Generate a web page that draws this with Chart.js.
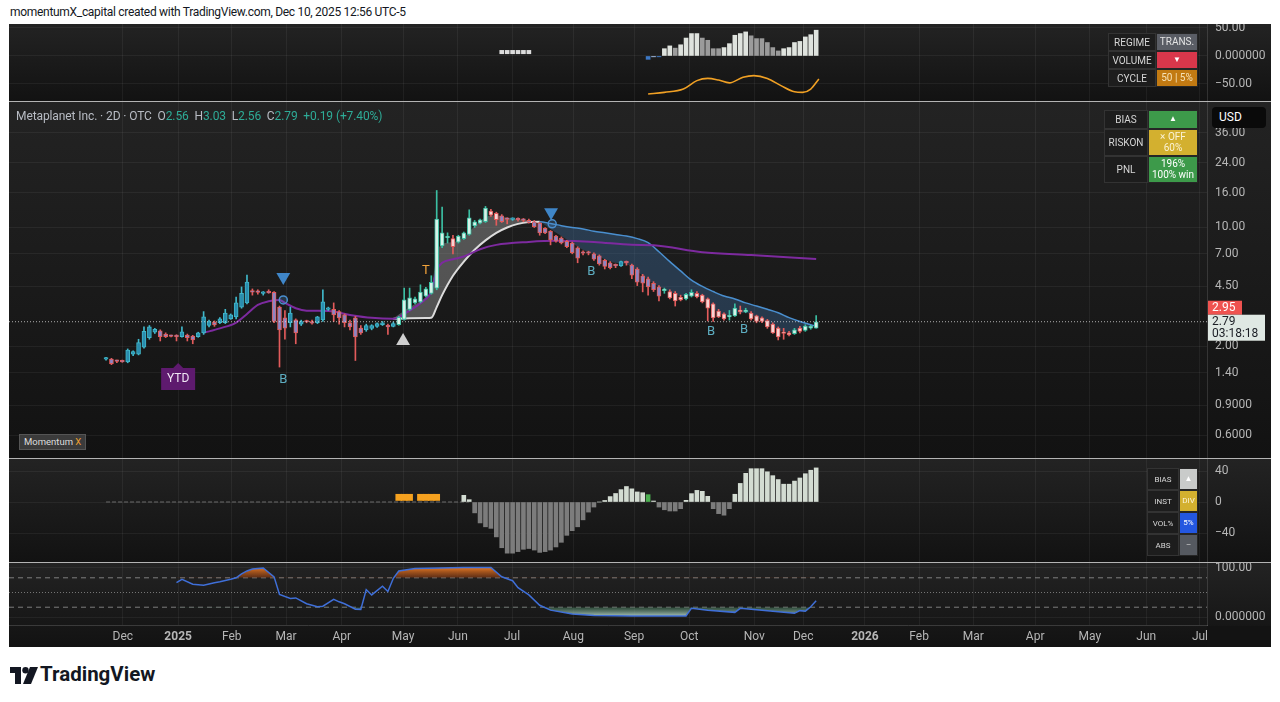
<!DOCTYPE html>
<html>
<head>
<meta charset="utf-8">
<script src="https://cdn.jsdelivr.net/npm/chart.js@4.4.1/dist/chart.umd.min.js"></script>
<style>
  html, body { margin: 0; padding: 0; background: #fff; }
  body { width: 1280px; height: 702px; position: relative; overflow: hidden; font-family: Roboto, "Liberation Sans", Arial, sans-serif; }
  .abs { position: absolute; }
  .pane { position: absolute; left: 9px; width: 1262px; background: linear-gradient(#232323, #121212); }
  .pane canvas { position: absolute; left: 0; top: 0; }
  .sep { position: absolute; left: 9px; width: 1262px; height: 1px; background: #b4b4b4; }
  .tbl { position: absolute; }
  .row { display: flex; }
  .lab, .val { display: flex; align-items: center; justify-content: center; text-align: center; box-sizing: border-box; }
  .lab { color: #d6d6d6; background: #1d1d1d; border: 1px solid #333; }
  .val { color: #fff; border: 1px solid #262626; line-height: 1.05; }
  .g { color: #2eab97; }
</style>
</head>
<body>
<div id="credit" class="abs" style="left:10px;top:5px;font-size:12px;letter-spacing:-0.3px;color:#131722;">momentumX_capital created with TradingView.com, Dec 10, 2025 12:56 UTC-5</div>

<div class="pane" style="top:24px;height:77px;"><canvas id="cTop" width="1262" height="77"></canvas></div>
<div class="sep" style="top:101px;"></div>
<div class="pane" style="top:102px;height:356px;"><canvas id="cMain" width="1262" height="356"></canvas></div>
<div class="sep" style="top:458px;"></div>
<div class="pane" style="top:459px;height:103px;"><canvas id="cMom" width="1262" height="103"></canvas></div>
<div class="sep" style="top:562px;"></div>
<div class="pane" style="top:563px;height:84px;"><canvas id="cOsc" width="1262" height="84"></canvas></div>

<div class="abs" style="left:16px;top:109px;font-size:12px;letter-spacing:-0.1px;color:#b8bcc4;white-space:pre;">Metaplanet Inc. · 2D · OTC  O<span class="g">2.56</span>  H<span class="g">3.03</span>  L<span class="g">2.56</span>  C<span class="g">2.79</span>  <span class="g">+0.19 (+7.40%)</span></div>

<div class="abs" style="left:1212px;top:107px;width:54px;height:21px;background:#0a0a0a;border-radius:4px;color:#fff;font-size:12px;line-height:21px;padding-left:7px;box-sizing:border-box;">USD</div>

<div class="tbl" style="left:1108px;top:33px;font-size:10px;">
  <div class="row" style="height:18px;"><div class="lab" style="width:48px;">REGIME</div><div class="val" style="width:42px;background:#5a5d65;color:#e4e4e4;">TRANS.</div></div>
  <div class="row" style="height:18px;"><div class="lab" style="width:48px;">VOLUME</div><div class="val" style="width:42px;background:#d9374b;font-size:8px;">▼</div></div>
  <div class="row" style="height:18px;"><div class="lab" style="width:48px;">CYCLE</div><div class="val" style="width:42px;background:#c27a12;color:#f6e2b8;">50 | 5%</div></div>
</div>

<div class="tbl" style="left:1104px;top:110px;font-size:10px;">
  <div class="row" style="height:19px;"><div class="lab" style="width:44px;">BIAS</div><div class="val" style="width:50px;background:#3d9a4a;font-size:8px;">▲</div></div>
  <div class="row" style="height:27px;"><div class="lab" style="width:44px;">RISKON</div><div class="val" style="width:50px;background:#d3b02f;color:#fbf3d6;">× OFF<br>60%</div></div>
  <div class="row" style="height:27px;"><div class="lab" style="width:44px;">PNL</div><div class="val" style="width:50px;background:#3d9a4a;">196%<br>100% win</div></div>
</div>

<div class="tbl" style="left:1147px;top:468px;font-size:8px;">
  <div class="row" style="height:22px;"><div class="lab" style="width:32px;">BIAS</div><div class="val" style="width:19px;background:#c9cbca;">▲</div></div>
  <div class="row" style="height:22px;"><div class="lab" style="width:32px;">INST</div><div class="val" style="width:19px;background:#d3b02f;color:#fbf3d6;">DIV</div></div>
  <div class="row" style="height:22px;"><div class="lab" style="width:32px;">VOL%</div><div class="val" style="width:19px;background:#2457e0;">5%</div></div>
  <div class="row" style="height:22px;"><div class="lab" style="width:32px;">ABS</div><div class="val" style="width:19px;background:#555960;color:#ddd;">–</div></div>
</div>

<div class="abs" style="left:19px;top:434px;height:14px;padding:0 4px;background:#3b3b3b;border:1px solid #555;font-size:9.5px;line-height:14px;color:#ddd;">Momentum <span style="color:#f0a030;">X</span></div>

<svg class="abs" style="left:10px;top:667px;" width="28" height="17" viewBox="0 0 28 17">
  <path d="M0 0H11V17H5V6H0Z" fill="#131722"/>
  <circle cx="15.5" cy="3.2" r="3.2" fill="#131722"/>
  <path d="M20 0H28L21 17H13Z" fill="#131722"/>
</svg>
<div class="abs" style="left:40px;top:662px;font-size:20.5px;font-weight:700;color:#131722;">TradingView</div>

<script>
// ---- time axis (bar index units, 2D bars) ----
const monthIdx = [3.1, 13.3, 23.2, 33.2, 43.5, 54.8, 64.9, 74.9, 86.2, 97.4, 107.6, 119.6, 128.6, 140, 150, 160, 171.4, 181.5, 191.9, 201.8];
const monthLabels = ['Dec', '2025', 'Feb', 'Mar', 'Apr', 'May', 'Jun', 'Jul', 'Aug', 'Sep', 'Oct', 'Nov', 'Dec', '2026', 'Feb', 'Mar', 'Apr', 'May', 'Jun', 'Jul'];

// ---- price (OHLC per bar) ----
const opens = [1.68,1.68,1.64,1.63,1.62,1.80,1.80,1.98,2.25,2.42, 2.47,2.36,2.31,2.30,2.28,2.33,2.30,2.28,2.40,2.65,
  2.78,2.75,2.75,2.90,2.98,3.40,3.60,4.20,4.20,4.10, 4.20,4.15,3.40,2.94,2.75,2.86,2.70,2.80,2.80,2.75,
  2.86,3.30,3.30,3.20,3.06,2.75,2.94,2.56,2.50,2.55, 2.62,2.68,2.65,2.62,2.68,2.88,3.30,3.60,3.65,3.95,
  4.10,4.40,7.80,8.70,8.60,8.20,8.60,9.10,10.2,10.6, 10.8,12.5,12.1,11.7,11.2,11.15,11.2,11.1,11.0,10.8,
  10.6,9.9,9.5,8.9,8.65,8.3,8.1,7.6,7.15,7.1, 7.0,6.8,6.4,6.2,6.0,5.95,6.25,6.0,5.7,5.2,
  4.98,4.7,4.47,4.25,4.2,4.1,3.9,3.8,3.95,4.1, 4.0,3.8,3.55,3.22,3.1,2.98,3.02,3.25,3.2,3.14,
  3.02,2.94,2.83,2.7,2.56,2.42,2.4,2.37,2.56,2.48, 2.56,2.56];
const highs = [1.72,1.70,1.66,1.66,1.93,1.88,2.20,2.60,2.65,2.55, 2.50,2.40,2.33,2.34,2.60,2.36,2.32,2.42,3.20,2.85,
  2.82,2.95,3.30,3.10,3.90,4.47,5.25,4.35,4.30,4.20, 4.30,4.20,3.45,3.25,3.40,2.90,2.85,2.85,2.85,3.00,
  4.30,3.40,3.60,3.25,3.10,2.85,3.00,2.65,2.70,2.68, 2.75,2.80,2.70,2.78,3.00,4.40,4.40,3.90,4.60,4.45,
  5.20,16.5,13.2,9.3,9.0,9.0,9.4,12.7,11.0,11.2, 13.3,12.8,12.3,11.9,11.4,11.4,11.4,11.3,11.2,11.0,
  10.7,10.0,9.6,9.0,8.8,8.4,8.2,7.7,7.3,7.25, 7.1,6.9,6.5,6.3,6.1,6.35,6.35,6.1,5.8,5.3,
  5.1,4.8,4.55,4.4,4.3,4.2,4.0,4.1,4.3,4.2, 4.05,3.85,3.6,3.3,3.15,3.25,3.55,3.45,3.35,3.2,
  3.05,2.98,2.88,2.75,2.6,2.55,2.45,2.55,2.62,2.68, 2.66,3.03];
const lows = [1.66,1.56,1.60,1.61,1.60,1.76,1.78,1.95,2.20,2.38, 2.15,2.25,2.27,2.15,2.26,2.15,2.07,2.26,2.35,2.60,
  2.62,2.72,2.72,2.88,2.90,3.35,3.55,4.00,4.05,4.00, 4.10,2.75,1.51,2.20,2.60,2.07,2.65,2.75,2.70,2.72,
  2.80,3.25,2.80,2.70,2.60,2.50,1.65,2.35,2.45,2.50, 2.58,2.65,2.35,2.60,2.66,2.85,3.25,3.55,3.60,3.90,
  4.05,4.30,7.6,8.1,7.0,8.1,8.5,9.0,10.0,10.5, 10.7,11.6,10.3,10.7,10.5,11.0,10.9,10.8,10.6,10.0,
  9.0,9.2,7.9,8.2,8.0,7.6,7.0,6.2,6.9,6.9, 6.4,6.0,5.7,5.7,5.8,5.9,6.0,5.0,4.55,4.18,
  4.0,4.2,3.7,4.1,3.8,3.45,3.7,3.75,3.9,3.85, 3.6,2.82,2.8,2.95,2.85,2.85,3.0,3.1,3.15,2.85,
  2.75,2.75,2.55,2.38,2.18,2.2,2.3,2.35,2.4,2.45, 2.52,2.56];
const closes = [1.69,1.58,1.63,1.62,1.90,1.86,2.10,2.45,2.60,2.52, 2.28,2.28,2.29,2.28,2.43,2.25,2.18,2.40,2.98,2.80,
  2.67,2.90,3.14,3.06,3.60,4.10,4.77,4.17,4.15,4.12, 4.12,2.80,2.50,2.56,3.14,2.40,2.80,2.78,2.74,2.98,
  3.65,3.35,3.06,2.94,2.75,2.60,2.27,2.40,2.65,2.65, 2.72,2.75,2.60,2.72,2.96,3.75,3.85,3.80,4.17,4.35,
  4.75,11.2,9.3,8.75,7.7,8.9,9.3,11.4,10.8,11.1, 13.0,11.8,11.1,10.8,11.15,11.25,11.1,11.0,10.7,10.1,
  9.3,9.3,8.45,8.3,8.1,7.7,7.1,6.6,7.05,7.05, 6.5,6.1,5.9,5.8,5.95,6.3,6.2,5.25,4.77,4.7,
  4.47,4.3,3.95,4.32,3.85,3.7,3.75,4.05,4.15,3.9, 3.65,3.35,2.94,2.98,2.9,3.02,3.36,3.2,3.25,2.9,
  2.8,2.8,2.6,2.4,2.27,2.38,2.33,2.5,2.45,2.63, 2.63,2.79];
const signalPrice = 2.95;

// ---- trend lines on price ----
const purpleIdx = [18,21,24,26,28,30,32,33,35,37,41,45,49,53,55,57,59,60,61,62,64,66,69,72,78,83,90,97,101,110,119,131];
const purpleVals = [2.40,2.55,2.76,3.10,3.50,3.68,3.75,3.60,3.35,3.24,3.23,3.06,2.94,2.90,3.10,3.40,3.80,4.2,5.6,6.2,6.5,6.75,7.45,7.9,8.22,8.34,8.22,7.9,7.85,7.15,6.88,6.53];
const cloudIdx = [53,56,59,60,61,62,64,66,68,70,72,74,76,78,80,82,84,86,88,90,92,94,96,98,100,102,104,106,108,110,112,114,116,118,120,122,124,126,128,130,131];
const slowVals = [2.90,2.92,2.93,2.94,3.4,4.0,5.2,6.3,7.4,8.4,9.3,10.0,10.5,10.75,10.8,10.55,10.25,10.0,9.8,9.5,9.3,9.1,8.9,8.6,8.15,7.2,6.3,5.55,4.9,4.5,4.2,3.95,3.8,3.6,3.45,3.3,3.15,2.95,2.8,2.68,2.63];
const fastVals = [2.92,3.4,3.9,4.3,7.0,8.0,8.2,8.8,10.2,11.5,11.8,11.4,11.2,11.0,10.8,9.8,8.9,8.1,7.4,7.0,6.5,6.2,6.1,5.5,4.9,4.5,4.2,3.95,3.95,3.85,3.35,3.05,3.1,3.15,2.95,2.75,2.5,2.4,2.5,2.6,2.65];
const crossIdx = 80;

// ---- markers & signals ----
const sellMarkIdx = [32.7, 82.1];
const sellMarkPrice = [5.11, 12.3];
const buyMarkIdx = [54.8];
const buyMarkPrice = [2.15];
const ringIdx = [32.7, 82.3];
const ringPrice = [3.75, 10.5];
const sigIdx = [32.7, 89.5, 111.6, 117.7, 59];
const sigPrice = [1.27, 5.47, 2.43, 2.50, 5.55];
const sigText = ['B', 'B', 'B', 'B', 'T'];
const ytdIdx = 13.3, ytdPrice = 1.285;

const priceTicks = [0.6, 0.9, 1.4, 2, 4.5, 7, 10, 16, 24, 36];
const priceLabels = ['0.6000', '0.9000', '1.40', '2.00', '4.50', '7.00', '10.00', '16.00', '24.00', '36.00'];

// ---- top pane (regime / cycle) ----
const topHistStart = 103;
const topHistVals = [13,18,14,20,32,40,40,32,28,13,13,15,22,37,40,43,36,31,31,24,15,9,13,15,24,26,34,38,46];
const topNegIdx = [100, 101, 102];
const topNegVals = [-6, -1.5, -1.5];
const topDotIdx = [73, 74, 75, 76, 77, 78];
const topDotRange = [4, 10];
const cycleIdx = [100,103,106.5,109,111,113,115,117.5,119.5,122,124.5,127,128.5,130,131.5];
const cycleVals = [-68,-65,-59,-44,-40,-43,-48,-38,-35,-40,-53,-64,-65,-59,-41];
const topTicks = [-50, 0, 50];
const topLabels = ['−50.00', '0.000000', '50.00'];

// ---- momentum pane ----
const momStart = 66;
const momVals = [8.6,3,-14,-27,-32,-34,-45,-59,-66,-66,-64,-61,-60,-62,-65,-64,-62,-58,-52,-43,-37,-32,-23,-13,-6.5,0,
  2,7,11,16,20,17,13,12,9.5,1.3,-6.5,-10,-11.6,-11.6,-8.6,2.2,10.8,15,13.8,7.3,-8.6,-15,-17,-8.6,
  10,24,37,43,43,43,39,34,29,23,23,27,31,36.5,41,44];
const momGreenIdx = [100];
const momFlagIdx = [54, 55, 56, 58, 59, 60, 61];
const momFlagRange = [2, 10];
const momZeroEnd = 67;
const momTicks = [-40, 0, 40];
const momLabels = ['−40', '0', '40'];

// ---- oscillator pane ----
const oscIdx = [13,14,16,18,20,21,23,24,25,26,27,29,31,32,34,35,37,39,40,42,43,44,46,47,48,49,51,52,53,54,57,66,71,73,75,76,78,80,82,86,90,97,107,108,111,116,117,121,127,128,129,130,131];
const oscVals = [70,77,67,65,70,72,77,80,88,94,98,100,82,46,38,39,27,21,22,36,31,27,16,15.6,56,45,63,52,79,94,99,101,101,82,74,60,45,24,14,6,3,2,2,18,14,9.5,17.7,14,7.5,13,12,21,33];
const oscLevels = [80, 50, 20];
const oscTicks = [0, 100];
const oscLabels = ['0.000000', '100.00'];

// ---------------------------------------------------------------
const FONT = 'Roboto, "Liberation Sans", Arial, sans-serif';
const AXIS_TXT = '#b6b6b6';
const GRID = 'rgba(255,255,255,0.055)';
const X_MIN = -17.9, X_MAX = 203.1;
Chart.defaults.font.family = FONT;

function xAxis(show) {
  return {
    type: 'linear', min: X_MIN, max: X_MAX, offset: false, bounds: 'data',
    afterBuildTicks: s => { s.ticks = monthIdx.map(v => ({ value: v })); },
    grid: { color: GRID, drawTicks: false, offset: false },
    border: { display: show, color: '#3a3a3a' },
    ticks: {
      display: show, padding: 5, color: AXIS_TXT, maxRotation: 0, autoSkip: false,
      font: c => ({ family: FONT, size: 12, weight: /^\d{4}$/.test(monthLabels[c.index]) ? '700' : '400' }),
      callback: (v, k) => monthLabels[k]
    },
    afterFit: s => { s.paddingLeft = 0; s.paddingRight = 0; s.height = show ? 22 : 0; }
  };
}

function yAxis(type, min, max, tickVals, tickLabels) {
  return {
    type: type, position: 'right', min: min, max: max, bounds: 'data',
    afterBuildTicks: s => { s.ticks = tickVals.map(v => ({ value: v })); },
    grid: { color: GRID, drawTicks: false },
    border: { display: true, color: 'rgba(255,255,255,0.13)' },
    ticks: { padding: 8, color: AXIS_TXT, font: { size: 12 }, callback: (v, k) => tickLabels[k] },
    afterFit: s => { s.width = 64; s.paddingTop = 0; s.paddingBottom = 0; }
  };
}

function baseOptions(scales) {
  return {
    responsive: false, animation: false, events: [],
    layout: { padding: 0, autoPadding: false },
    plugins: { legend: { display: false }, tooltip: { enabled: false } },
    scales: scales
  };
}

// vertical gradient between two values of the y scale
function bandGradient(c, v0, col0, v1, col1) {
  const chart = c.chart;
  const y = chart.scales && chart.scales.y;
  if (!chart.chartArea || !y) return col0;
  const g = chart.ctx.createLinearGradient(0, y.getPixelForValue(v0), 0, y.getPixelForValue(v1));
  g.addColorStop(0, col0);
  g.addColorStop(1, col1);
  return g;
}

// candle colours by phase
function candleColors(i) {
  const up = closes[i] >= opens[i];
  const light = (i >= 54 && i < 73) || i >= 103;
  if (up) return light ? ['#d6f2e8', '#3bbfa3'] : ['#2a8cae', '#40b8ca'];
  return light ? ['#f6d3d3', '#e25b5b'] : ['#8c86c4', '#e25b5b'];
}

// ---- main price chart ----
const bars = closes.map((c, i) => i);
const mainOverlay = {
  id: 'mainOverlay',
  afterDatasetsDraw(chart) {
    const { ctx } = chart;
    const x = chart.scales.x, y = chart.scales.y;
    ctx.save();
    ctx.font = '13px ' + FONT;
    ctx.textAlign = 'center';
    ctx.textBaseline = 'middle';
    sigText.forEach((t, k) => {
      ctx.fillStyle = t === 'T' ? '#f2a33a' : '#5eaec2';
      ctx.fillText(t, x.getPixelForValue(sigIdx[k]), y.getPixelForValue(sigPrice[k]));
    });
    // YTD tag
    const cx = x.getPixelForValue(ytdIdx), cy = y.getPixelForValue(ytdPrice);
    ctx.fillStyle = '#5e1a6e';
    ctx.beginPath();
    ctx.moveTo(cx - 17, cy - 11);
    ctx.lineTo(cx - 5, cy - 11);
    ctx.lineTo(cx, cy - 16);
    ctx.lineTo(cx + 5, cy - 11);
    ctx.lineTo(cx + 17, cy - 11);
    ctx.lineTo(cx + 17, cy + 11);
    ctx.lineTo(cx - 17, cy + 11);
    ctx.closePath();
    ctx.fill();
    ctx.fillStyle = '#f0e6f4';
    ctx.font = '12px ' + FONT;
    ctx.fillText('YTD', cx, cy + 0.5);
    ctx.restore();
  },
  afterDraw(chart) {
    const { ctx, chartArea } = chart;
    const y = chart.scales.y;
    const last = closes[closes.length - 1];
    const py = y.getPixelForValue(last);
    const left = chartArea.right + 1;
    ctx.save();
    ctx.fillStyle = '#ef5350';
    ctx.fillRect(left, py - 21, 34, 14);
    ctx.fillStyle = '#dfe8e3';
    ctx.fillRect(left, py - 7, 57, 26);
    ctx.font = '12px ' + FONT;
    ctx.textAlign = 'left';
    ctx.textBaseline = 'middle';
    ctx.fillStyle = '#ffffff';
    ctx.fillText(signalPrice.toFixed(2), left + 4, py - 14);
    ctx.fillStyle = '#1a1d24';
    ctx.fillText(last.toFixed(2), left + 4, py);
    ctx.fillText('03:18:18', left + 4, py + 12);
    ctx.restore();
  }
};

new Chart(document.getElementById('cMain'), {
  type: 'bar',
  data: {
    datasets: [
      {
        type: 'line', label: 'fast', order: 11,
        data: cloudIdx.map((v, k) => ({ x: v, y: fastVals[k] })),
        borderWidth: 0, borderColor: 'rgba(0,0,0,0)', pointRadius: 0, cubicInterpolationMode: 'monotone', fill: false
      },
      {
        type: 'line', label: 'slow', order: 10,
        data: cloudIdx.map((v, k) => ({ x: v, y: slowVals[k] })),
        borderWidth: 2, pointRadius: 0, cubicInterpolationMode: 'monotone',
        segment: { borderColor: c => c.p0.parsed.x >= crossIdx ? '#4a8fcf' : '#dcdcdc', borderWidth: c => c.p0.parsed.x >= crossIdx ? 1.5 : 2 },
        fill: { target: 0, above: 'rgba(62,110,160,0.38)', below: 'rgba(170,170,170,0.4)' }
      },
      {
        type: 'line', label: 'trend', order: 4,
        data: purpleIdx.map((v, k) => ({ x: v, y: purpleVals[k] })),
        borderColor: '#7d2a9f', borderWidth: 2, pointRadius: 0, cubicInterpolationMode: 'monotone', fill: false
      },
      {
        label: 'wick', order: 3, grouped: false, barThickness: 1,
        data: bars.map(i => ({ x: i, y: [lows[i], highs[i]] })),
        backgroundColor: bars.map(i => candleColors(i)[1])
      },
      {
        label: 'body', order: 2, grouped: false, barThickness: 4, minBarLength: 1.5,
        data: bars.map(i => ({ x: i, y: [opens[i], closes[i]] })),
        backgroundColor: bars.map(i => candleColors(i)[0]),
        borderColor: bars.map(i => candleColors(i)[1]),
        borderWidth: 1, borderSkipped: false
      },
      {
        type: 'line', label: 'last', order: 1,
        data: [{ x: X_MIN, y: closes[closes.length - 1] }, { x: X_MAX, y: closes[closes.length - 1] }],
        borderColor: 'rgba(225,225,225,0.75)', borderWidth: 1, borderDash: [1, 2], pointRadius: 0, fill: false
      },
      {
        type: 'scatter', label: 'ring', order: 0,
        data: ringIdx.map((v, k) => ({ x: v, y: ringPrice[k] })),
        pointStyle: 'circle', pointRadius: 4, pointBorderWidth: 1.5,
        pointBorderColor: '#4a8fcf', pointBackgroundColor: 'rgba(74,143,207,0.25)'
      },
      {
        type: 'scatter', label: 'sell', order: 0,
        data: sellMarkIdx.map((v, k) => ({ x: v, y: sellMarkPrice[k] })),
        pointStyle: 'triangle', rotation: 180, pointRadius: 8, pointBorderWidth: 0,
        pointBackgroundColor: '#3f86c8'
      },
      {
        type: 'scatter', label: 'buy', order: 0,
        data: buyMarkIdx.map((v, k) => ({ x: v, y: buyMarkPrice[k] })),
        pointStyle: 'triangle', pointRadius: 8, pointBorderWidth: 0,
        pointBackgroundColor: '#cfcfcf'
      }
    ]
  },
  options: baseOptions({
    x: xAxis(false),
    y: yAxis('logarithmic', 0.4406, 54.7, priceTicks, priceLabels)
  }),
  plugins: [mainOverlay]
});

// ---- top pane ----
let prevWhite = true;
const topColors = topHistVals.map((v, k) => {
  if (k > 0 && v !== topHistVals[k - 1]) prevWhite = v > topHistVals[k - 1];
  return prevWhite ? '#dfe3de' : '#9b9b9b';
});
new Chart(document.getElementById('cTop'), {
  type: 'bar',
  data: {
    datasets: [
      {
        type: 'line', order: 0,
        data: cycleIdx.map((v, k) => ({ x: v, y: cycleVals[k] })),
        borderColor: '#f0a024', borderWidth: 1.6, pointRadius: 0, cubicInterpolationMode: 'monotone', fill: false
      },
      {
        order: 1, grouped: false, barThickness: 4,
        data: topHistVals.map((v, k) => ({ x: topHistStart + k, y: v })),
        backgroundColor: topColors
      },
      {
        order: 1, grouped: false, barThickness: 4,
        data: topNegIdx.map((v, k) => ({ x: v, y: topNegVals[k] })),
        backgroundColor: ['#3d78c4', '#9fb8dc', '#3d78c4']
      },
      {
        order: 1, grouped: false, barThickness: 4,
        data: topDotIdx.map(v => ({ x: v, y: topDotRange })),
        backgroundColor: '#dcdcdc'
      }
    ]
  },
  options: baseOptions({
    x: xAxis(false),
    y: yAxis('linear', -80.4, 57.1, topTicks, topLabels)
  })
});

// ---- momentum pane ----
new Chart(document.getElementById('cMom'), {
  type: 'bar',
  data: {
    datasets: [
      {
        type: 'line', order: 2,
        data: [{ x: 0, y: 0 }, { x: momZeroEnd, y: 0 }],
        borderColor: '#6a6a6a', borderWidth: 1, borderDash: [4, 2], pointRadius: 0, fill: false
      },
      {
        order: 1, grouped: false, barThickness: 4,
        data: momVals.map((v, k) => ({ x: momStart + k, y: v })),
        backgroundColor: momVals.map((v, k) => momGreenIdx.includes(momStart + k) ? '#4caf50' : (v >= 0 ? '#d3dcd2' : '#7c7c7c'))
      },
      {
        order: 1, grouped: false, barThickness: 6,
        data: momFlagIdx.map(v => ({ x: v, y: momFlagRange })),
        backgroundColor: '#f5a11f'
      }
    ]
  },
  options: baseOptions({
    x: xAxis(false),
    y: yAxis('linear', -77.4, 55.5, momTicks, momLabels)
  })
});

// ---- oscillator pane ----
const cornerBox = {
  id: 'cornerBox',
  afterDraw(chart) {
    const { ctx, chartArea } = chart;
    ctx.save();
    ctx.fillStyle = '#131313';
    ctx.fillRect(chartArea.right, chartArea.bottom + 1, chart.width - chartArea.right, chart.height - chartArea.bottom);
    ctx.restore();
  }
};
const oscData = oscIdx.map((v, k) => ({ x: v, y: oscVals[k] }));
new Chart(document.getElementById('cOsc'), {
  type: 'line',
  data: {
    datasets: oscLevels.map(lv => ({
      data: [{ x: X_MIN, y: lv }, { x: X_MAX, y: lv }],
      borderColor: lv === 50 ? 'rgba(190,190,190,0.55)' : 'rgba(190,190,190,0.6)',
      borderWidth: 1, borderDash: lv === 50 ? [1, 2] : [5, 4], pointRadius: 0, fill: false, order: 3
    })).concat([
      {
        data: oscData, order: 1,
        borderColor: '#3f6fd8', borderWidth: 1.5, pointRadius: 0,
        backgroundColor: c => bandGradient(c, 101, 'rgba(236,124,36,0.95)', 80, 'rgba(120,52,18,0.7)'),
        fill: { value: 80, below: 'rgba(0,0,0,0)' }
      },
      {
        data: oscData, order: 2,
        borderColor: 'rgba(0,0,0,0)', borderWidth: 0, pointRadius: 0,
        backgroundColor: c => bandGradient(c, 20, 'rgba(60,110,80,0.55)', 1, 'rgba(200,230,220,0.85)'),
        fill: { value: 20, above: 'rgba(0,0,0,0)' }
      }
    ])
  },
  options: baseOptions({
    x: xAxis(true),
    y: yAxis('linear', -16.3, 110.2, oscTicks, oscLabels)
  }),
  plugins: [cornerBox]
});
</script>
</body>
</html>
